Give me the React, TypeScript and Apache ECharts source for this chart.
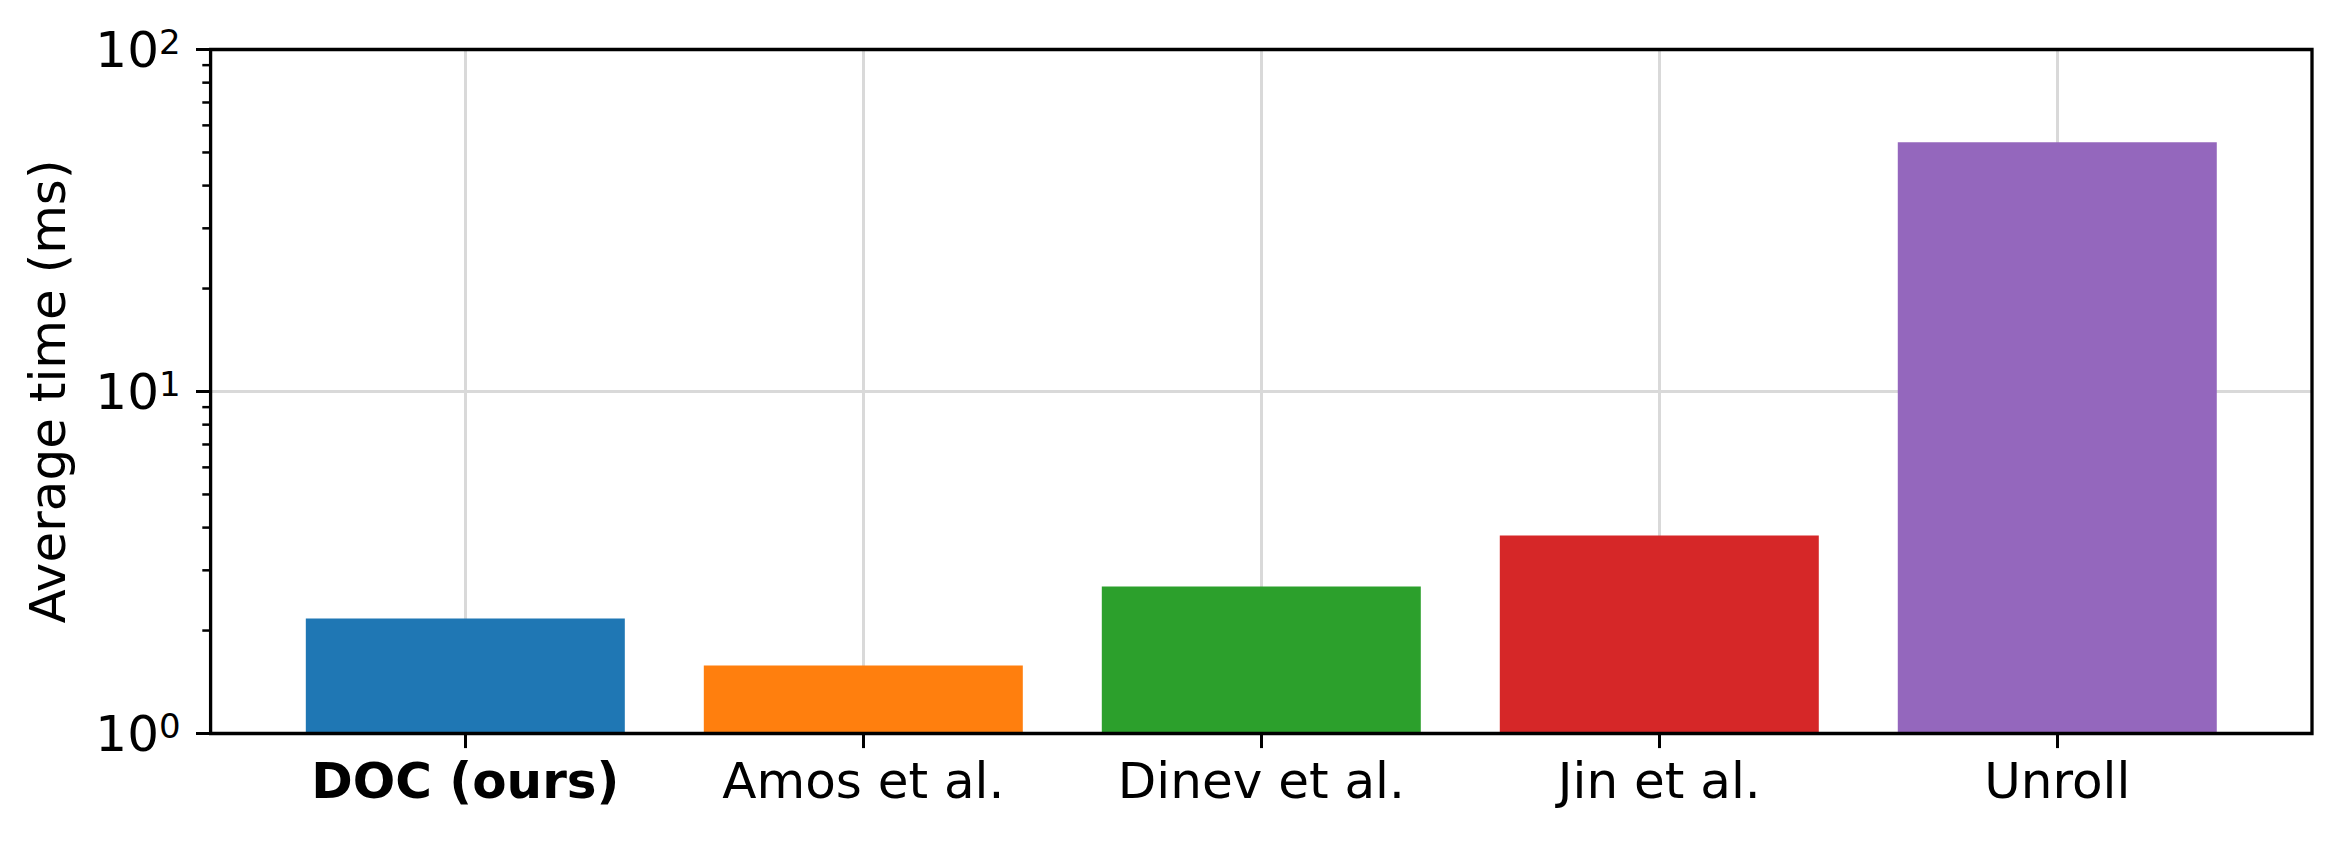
import React, { useEffect, useRef } from "react";
import * as echarts from "echarts";

const categories = ["DOC (ours)", "Amos et al.", "Dinev et al.", "Jin et al.", "Unroll"];
const values = [2.17, 1.58, 2.69, 3.79, 53.6];
const colors = ["#1f77b4", "#ff7f0e", "#2ca02c", "#d62728", "#9467bd"];
const yMinorTicks = [2, 3, 4, 5, 6, 7, 8, 9, 20, 30, 40, 50, 60, 70, 80, 90];
const yLabel = "Average time (ms)";

const W = 2342;
const H = 841;
const GL = 210.6;
const GT = 49.5;
const GW = 2312 - 210.6;
const GH = 733.5 - 49.5;
const FONT = "DejaVu Sans";

export default function App() {
  const ref = useRef<HTMLDivElement>(null);
  useEffect(() => {
    if (!ref.current) return;
    const chart = echarts.init(ref.current, undefined, { renderer: "svg" });
    const positions = categories.map((_, i) => i);
    chart.setOption({
      animation: false,
      backgroundColor: "#ffffff",
      grid: { left: GL, top: GT, width: GW, height: GH, containLabel: false },
      xAxis: {
        type: "value",
        min: -0.64,
        max: 4.64,
        axisLine: { show: false, onZero: false },
        axisTick: {
          show: true,
          customValues: positions,
          length: 14.6,
          lineStyle: { color: "#000", width: 3 },
        },
        axisLabel: {
          customValues: positions,
          margin: 22,
          fontFamily: FONT,
          fontSize: 50,
          color: "#000",
          formatter: (v: number) => {
            const i = Math.round(v);
            if (i < 0 || i >= categories.length || Math.abs(v - i) > 1e-6) return "";
            return i === 0 ? `{b|${categories[i]}}` : categories[i];
          },
          rich: { b: { fontWeight: "bold", fontFamily: FONT, fontSize: 50, color: "#000" } },
        },
        splitLine: { show: true, lineStyle: { color: "#d9d9d9", width: 3 } },
      },
      yAxis: {
        type: "log",
        logBase: 10,
        min: 1,
        max: 100,
        name: yLabel,
        nameLocation: "middle",
        nameRotate: 90,
        nameGap: 138,
        nameTextStyle: { fontFamily: FONT, fontSize: 50, color: "#000" },
        axisLine: { show: false, onZero: false },
        axisTick: { show: true, length: 14.6, lineStyle: { color: "#000", width: 3 } },
        axisLabel: {
          margin: 30,
          color: "#000",
          formatter: (v: number) => `{base|10}{sup|${Math.round(Math.log10(v))}}`,
          rich: {
            base: { fontFamily: FONT, fontSize: 50, lineHeight: 50, verticalAlign: "bottom", color: "#000" },
            sup: { fontFamily: FONT, fontSize: 34, lineHeight: 8, verticalAlign: "top", color: "#000" },
          },
        },
        splitLine: { show: true, lineStyle: { color: "#d9d9d9", width: 3 } },
        minorTick: { show: false },
      },
      graphic: [
        {
          type: "rect",
          z: 100,
          silent: true,
          shape: { x: GL, y: GT, width: GW, height: GH },
          style: { fill: "none", stroke: "#000", lineWidth: 3.3 },
        },
      ],
      series: [
        {
          type: "bar",
          barWidth: 319,
          z: 2,
          data: values.map((v, i) => ({ value: [positions[i], v], itemStyle: { color: colors[i] } })),
        },
        {
          type: "custom",
          silent: true,
          clip: false,
          z: 10,
          data: yMinorTicks.map((v) => [0, v]),
          renderItem: (params: any, api: any) => {
            const p = api.coord([api.value(0), api.value(1)]);
            const x0 = params.coordSys.x;
            return {
              type: "line",
              shape: { x1: x0 - 8.3, y1: p[1], x2: x0, y2: p[1] },
              style: { stroke: "#000", lineWidth: 2.5 },
            };
          },
        },
      ],
    });
    return () => chart.dispose();
  }, []);
  return (
    <div
      ref={ref}
      style={{ position: "fixed", left: 0, top: 0, width: W, height: H, background: "#fff" }}
    />
  );
}
